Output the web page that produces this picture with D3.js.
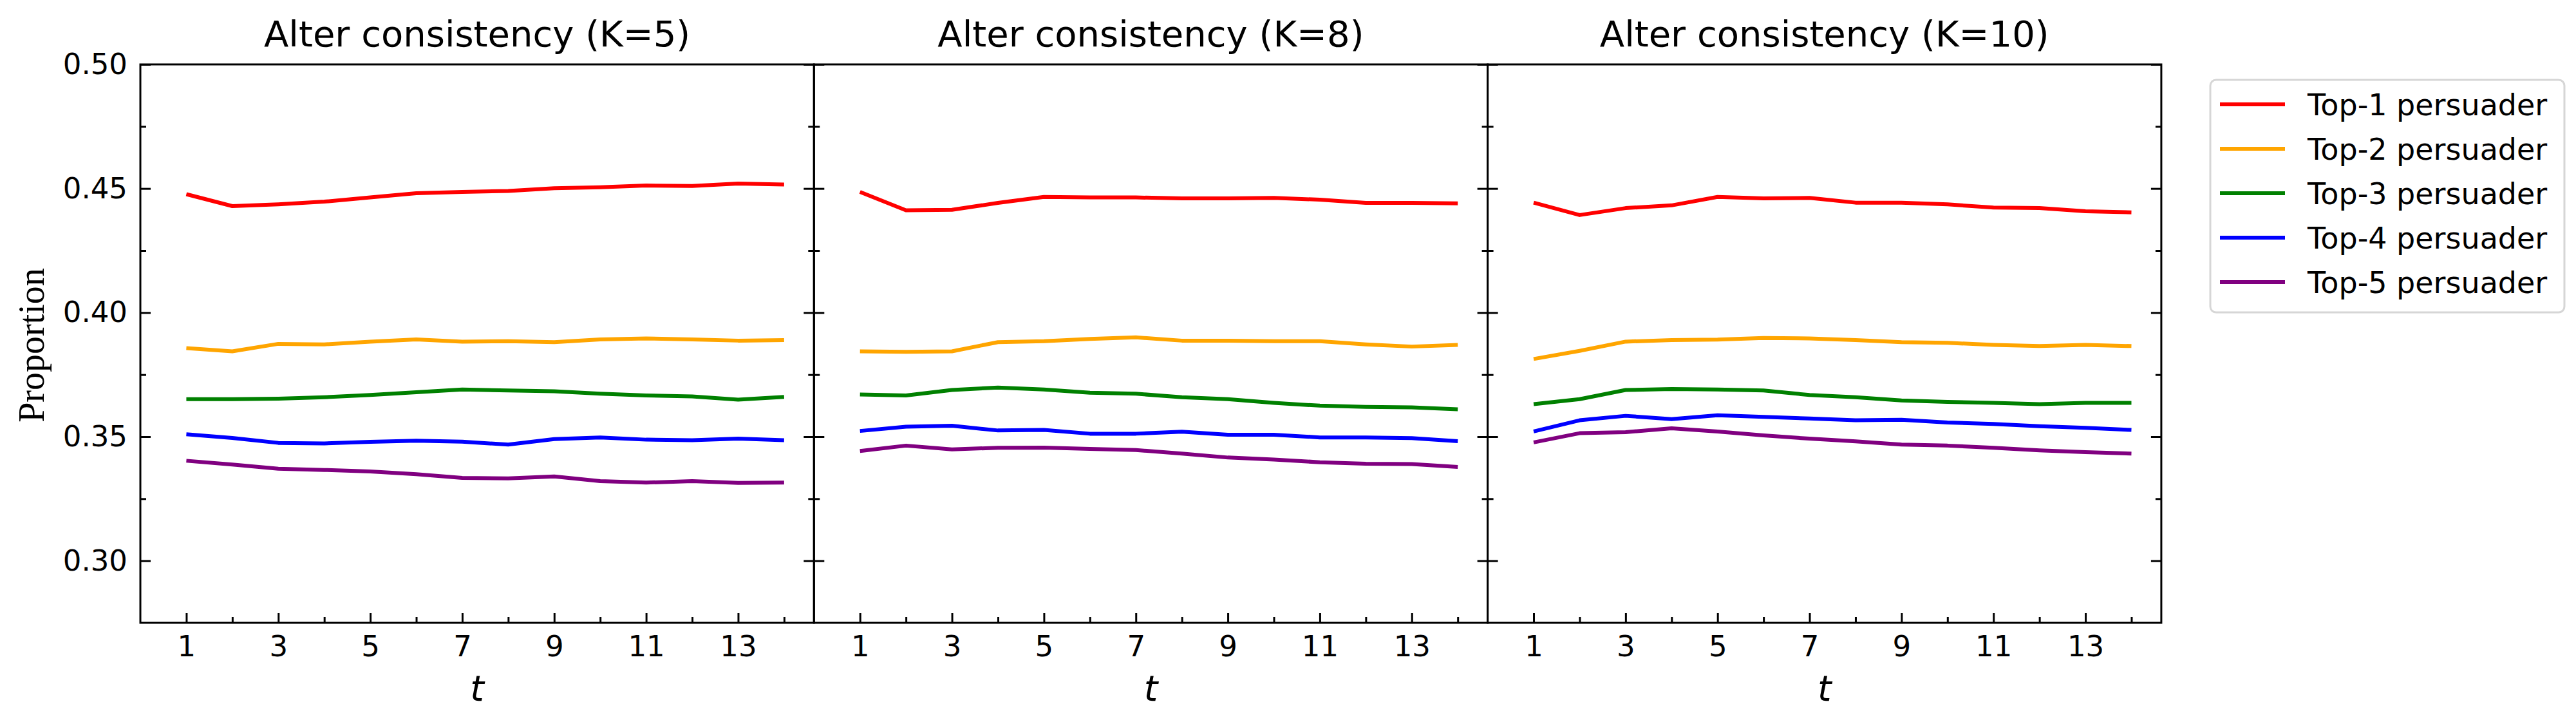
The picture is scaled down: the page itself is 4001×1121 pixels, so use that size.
<!DOCTYPE html>
<html><head><meta charset="utf-8">
<script src="https://cdn.jsdelivr.net/npm/d3@7"></script>
<style>body{margin:0;background:#fff}</style>
</head><body>
<svg id="chart" width="4001" height="1121"></svg>
<script>
// ---- data ----
const tValues = [1,2,3,4,5,6,7,8,9,10,11,12,13,14];
const seriesNames = ["Top-1 persuader","Top-2 persuader","Top-3 persuader","Top-4 persuader","Top-5 persuader"];
const seriesColors = ["#ff0000","#ffa500","#008000","#0000ff","#800080"];
const panelTitles = ["Alter consistency (K=5)","Alter consistency (K=8)","Alter consistency (K=10)"];
const yMajorTicks = [0.30,0.35,0.40,0.45,0.50];
const yMinorTicks = [0.325,0.375,0.425,0.475];
const xMajorTicks = [1,3,5,7,9,11,13];
const xMinorTicks = [2,4,6,8,10,12,14];

// K=5
const k5Top1 = [0.4477,0.4429,0.4436,0.4447,0.4464,0.4481,0.4486,0.4490,0.4501,0.4505,0.4512,0.4510,0.4520,0.4516];
const k5Top2 = [0.3857,0.3844,0.3874,0.3872,0.3883,0.3892,0.3883,0.3885,0.3881,0.3892,0.3896,0.3892,0.3887,0.3889];
const k5Top3 = [0.3651,0.3651,0.3653,0.3659,0.3668,0.3679,0.3690,0.3686,0.3683,0.3673,0.3666,0.3662,0.3649,0.3660];
const k5Top4 = [0.3510,0.3495,0.3475,0.3473,0.3479,0.3484,0.3480,0.3468,0.3490,0.3497,0.3488,0.3486,0.3492,0.3486];
const k5Top5 = [0.3403,0.3388,0.3371,0.3366,0.3360,0.3349,0.3334,0.3332,0.3340,0.3321,0.3315,0.3321,0.3314,0.3315];
// K=8
const k8Top1 = [0.4486,0.4412,0.4414,0.4442,0.4466,0.4464,0.4464,0.4460,0.4460,0.4462,0.4455,0.4442,0.4442,0.4440];
const k8Top2 = [0.3844,0.3842,0.3844,0.3881,0.3885,0.3894,0.3900,0.3887,0.3887,0.3885,0.3885,0.3872,0.3863,0.3870];
const k8Top3 = [0.3670,0.3666,0.3688,0.3698,0.3690,0.3677,0.3673,0.3659,0.3651,0.3636,0.3625,0.3620,0.3618,0.3610];
const k8Top4 = [0.3523,0.3540,0.3544,0.3525,0.3527,0.3512,0.3512,0.3520,0.3508,0.3508,0.3497,0.3497,0.3494,0.3482];
const k8Top5 = [0.3442,0.3464,0.3449,0.3455,0.3456,0.3451,0.3446,0.3432,0.3416,0.3408,0.3397,0.3391,0.3390,0.3378];
// K=10
const k10Top1 = [0.4443,0.4393,0.4421,0.4432,0.4466,0.4460,0.4462,0.4443,0.4443,0.4436,0.4423,0.4421,0.4408,0.4404];
const k10Top2 = [0.3813,0.3846,0.3883,0.3889,0.3891,0.3898,0.3896,0.3889,0.3881,0.3878,0.3870,0.3865,0.3870,0.3865];
const k10Top3 = [0.3631,0.3651,0.3688,0.3692,0.3690,0.3686,0.3668,0.3659,0.3646,0.3640,0.3636,0.3631,0.3636,0.3636];
const k10Top4 = [0.3521,0.3566,0.3584,0.3571,0.3586,0.3580,0.3573,0.3566,0.3568,0.3557,0.3551,0.3542,0.3536,0.3527];
const k10Top5 = [0.3477,0.3514,0.3518,0.3534,0.3521,0.3505,0.3492,0.3481,0.3468,0.3464,0.3455,0.3445,0.3438,0.3432];

const panels = [
  [k5Top1,k5Top2,k5Top3,k5Top4,k5Top5],
  [k8Top1,k8Top2,k8Top3,k8Top4,k8Top5],
  [k10Top1,k10Top2,k10Top3,k10Top4,k10Top5]
];

// ---- layout ----
const svg = d3.select("#chart");
const panelLeft = 218, panelW = 1046.3, plotTop = 100, plotBottom = 967;
const sans = "'DejaVu Sans', sans-serif";

const y = d3.scaleLinear().domain([0.275, 0.50]).range([plotBottom, plotTop]);

panels.forEach((series, p) => {
  const x0 = panelLeft + p * panelW;
  const x = d3.scaleLinear().domain([0, 14.65]).range([x0, x0 + panelW]);
  const g = svg.append("g");

  // lines
  const line = d3.line().x((d, i) => x(tValues[i])).y(d => y(d));
  series.forEach((vals, s) => {
    g.append("path").datum(vals)
      .attr("d", line)
      .attr("fill", "none")
      .attr("stroke", seriesColors[s])
      .attr("stroke-width", 6)
      .attr("stroke-linejoin", "round");
  });

  const styleAxis = (sel) => {
    sel.select(".domain").remove();
    sel.selectAll(".tick line").attr("stroke", "#000").attr("stroke-width", 3);
    sel.selectAll(".tick text").attr("font-family", sans).attr("font-size", 45).attr("fill", "#000");
  };

  // bottom axis
  g.append("g").attr("transform", `translate(0,${plotBottom})`)
    .call(d3.axisBottom(x).tickValues(xMajorTicks).tickSizeInner(-15).tickSizeOuter(0).tickPadding(20).tickFormat(d3.format("d")))
    .call(styleAxis);
  g.append("g").attr("transform", `translate(0,${plotBottom})`)
    .call(d3.axisBottom(x).tickValues(xMinorTicks).tickSizeInner(-9).tickSizeOuter(0).tickFormat(""))
    .call(styleAxis);

  // left axis
  g.append("g").attr("transform", `translate(${x0},0)`)
    .call(d3.axisLeft(y).tickValues(yMajorTicks).tickSizeInner(-16).tickSizeOuter(0).tickPadding(20)
      .tickFormat(p === 0 ? d3.format(".2f") : ""))
    .call(styleAxis);
  g.append("g").attr("transform", `translate(${x0},0)`)
    .call(d3.axisLeft(y).tickValues(yMinorTicks).tickSizeInner(-9).tickSizeOuter(0).tickFormat(""))
    .call(styleAxis);
  // right axis
  g.append("g").attr("transform", `translate(${x0 + panelW},0)`)
    .call(d3.axisRight(y).tickValues(yMajorTicks).tickSizeInner(-16).tickSizeOuter(0).tickFormat(""))
    .call(styleAxis);
  g.append("g").attr("transform", `translate(${x0 + panelW},0)`)
    .call(d3.axisRight(y).tickValues(yMinorTicks).tickSizeInner(-9).tickSizeOuter(0).tickFormat(""))
    .call(styleAxis);

  // frame
  g.append("rect").attr("x", x0).attr("y", plotTop).attr("width", panelW).attr("height", plotBottom - plotTop)
    .attr("fill", "none").attr("stroke", "#000").attr("stroke-width", 3);

  // title
  g.append("text").attr("x", x0 + panelW / 2).attr("y", 72)
    .attr("text-anchor", "middle").attr("font-family", sans).attr("font-size", 56)
    .text(panelTitles[p]);

  // x label
  g.append("text").attr("x", x0 + panelW / 2).attr("y", 1088)
    .attr("text-anchor", "middle").attr("font-family", sans).attr("font-style", "italic").attr("font-size", 55)
    .text("t");
});

// y label
svg.append("text").attr("transform", "translate(68,536) rotate(-90)")
  .attr("text-anchor", "middle").attr("font-family", "'Liberation Serif', 'Times New Roman', serif")
  .attr("font-size", 56).text("Proportion");

// legend
const lg = svg.append("g");
lg.append("rect").attr("x", 3433).attr("y", 124).attr("width", 550).attr("height", 361).attr("rx", 9)
  .attr("fill", "#fff").attr("stroke", "#d6d6d6").attr("stroke-width", 3);
seriesNames.forEach((name, i) => {
  const cy = 162 + i * 69;
  lg.append("line").attr("x1", 3448).attr("x2", 3549).attr("y1", cy).attr("y2", cy)
    .attr("stroke", seriesColors[i]).attr("stroke-width", 6);
  lg.append("text").attr("x", 3584).attr("y", cy).attr("dy", "0.36em")
    .attr("font-family", sans).attr("font-size", 46).text(name);
});
</script>
</body></html>
